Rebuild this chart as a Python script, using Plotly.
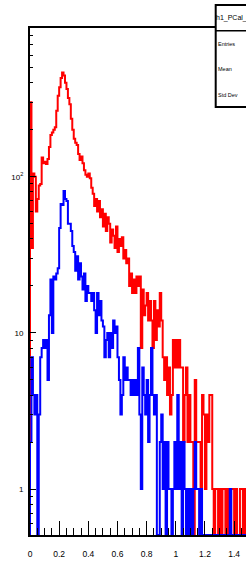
import plotly.graph_objects as go

# ---------------- data ----------------
bin_width = 0.01
red_counts = [
    300, 35, 105, 100, 60, 72, 88, 90, 133, 122,
    125, 121, 130, 155, 185, 192, 200, 208, 265, 330,
    375, 430, 465, 445, 400, 365, 320, 292, 235, 200,
    175, 165, 160, 140, 128, 135, 122, 110, 103, 100,
    105, 98, 85, 78, 65, 72, 60, 70, 55, 62,
    48, 58, 45, 55, 50, 38, 46, 42, 35, 48,
    33, 40, 36, 41, 30, 34, 28, 30, 20, 24,
    18, 22, 18, 23, 20, 23, 8, 19, 13, 15,
    18, 12, 16, 12, 8, 16, 9, 14, 11, 18,
    12, 7, 5, 7, 4, 6, 3, 4, 9, 6,
    9, 6, 9, 6, 6, 2, 4, 6, 2, 4,
    2, 2, 0, 5, 2, 2, 2, 1, 4, 3,
    1, 3, 2, 4, 4, 1, 0, 1, 1, 0,
    1, 0, 1, 1, 0, 1, 0, 0, 1, 1,
    0, 1, 0, 0, 1, 1, 0, 1, 0, 0,
]
blue_counts = [
    2, 7, 4, 3, 4, 0, 3, 7, 8, 9,
    8, 9, 5, 13, 22, 10, 23, 22, 24, 26,
    47, 67, 66, 81, 72, 70, 50, 50, 45, 36,
    33, 25, 31, 22, 28, 23, 19, 24, 16, 20,
    18, 18, 16, 18, 14, 10, 18, 13, 16, 12,
    11, 7, 9, 10, 7, 10, 8, 12, 10, 11,
    7, 5, 3, 4, 7, 5, 6, 5, 5, 4,
    5, 4, 5, 4, 8, 3, 1, 6, 4, 3,
    5, 2, 4, 8, 4, 3, 4, 0, 0, 2,
    3, 1, 2, 0, 2, 1, 1, 0, 1, 2,
    1, 4, 1, 2, 0, 2, 1, 0, 1, 0,
    1, 0, 1, 2, 1, 1, 0, 1, 0, 0,
    0, 0, 0, 0, 0, 0, 0, 0, 0, 0,
    0, 0, 0, 0, 0, 0, 0, 1, 0, 0,
    0, 0, 0, 0, 0, 0, 0, 0, 0, 0,
]
x_tick_vals = [0, 0.2, 0.4, 0.6, 0.8, 1.0, 1.2, 1.4]
x_tick_text = ["0", "0.2", "0.4", "0.6", "0.8", "1", "1.2", "1.4"]
y_tick_vals = [1, 10, 100]
y_tick_text = ["1", "10", "10<sup>2</sup>"]
stats_title = "h1_PCal_sampling"
stats_labels = ["Entries", "Mean", "Std Dev"]

# ---------------- layout constants ----------------
W, H = 246, 561
ML, MR, MT, MB = 30, 0, 28, 26
Y_LOG_MIN, Y_LOG_MAX = -0.294, 2.953
X_MAX = (W - ML) / 145.8
YMIN = 10 ** Y_LOG_MIN


def step_xy(counts):
    edges = [i * bin_width for i in range(len(counts) + 1)]
    ys = [c if c > 0 else YMIN for c in counts]
    x = [edges[0]] + edges
    y = [YMIN] + ys + [ys[-1]]
    return x, y


fig = go.Figure()
for counts, color in ((red_counts, "#ff0000"), (blue_counts, "#0000ff")):
    xs, ys = step_xy(counts)
    fig.add_trace(go.Scatter(x=xs, y=ys, mode="lines", line_shape="hv",
                             line=dict(color=color, width=2), hoverinfo="skip",
                             showlegend=False))

font = dict(family="Liberation Sans, Arial, sans-serif", color="black")

fig.update_layout(
    width=W, height=H,
    margin=dict(l=ML, r=MR, t=MT, b=MB, pad=0),
    paper_bgcolor="white", plot_bgcolor="white",
    font=dict(size=8, **font),
    showlegend=False,
    xaxis=dict(range=[0, X_MAX], tickmode="array", tickvals=x_tick_vals,
               ticktext=x_tick_text, ticks="inside", ticklen=14, tickwidth=1,
               tickcolor="black", showline=True, linewidth=2, linecolor="black",
               mirror=True, showgrid=False, zeroline=False,
               tickfont=dict(size=8.5, **font), ticklabelstandoff=10,
               minor=dict(dtick=0.05, tick0=0, ticks="inside", ticklen=7,
                          tickwidth=1, tickcolor="black", showgrid=False)),
    yaxis=dict(type="log", range=[Y_LOG_MIN, Y_LOG_MAX], tickmode="array",
               tickvals=y_tick_vals, ticktext=y_tick_text, ticks="inside",
               ticklen=6, tickwidth=1, tickcolor="black", showline=True,
               linewidth=2, linecolor="black", mirror=False, showgrid=False,
               zeroline=False, tickfont=dict(size=8, **font),
               ticklabelstandoff=3,
               minor=dict(tickmode="array",
                          tickvals=[0.6, 0.7, 0.8, 0.9] + [k for k in range(2, 10)]
                          + [10 * k for k in range(2, 10)] + [100 * k for k in range(2, 10)],
                          ticks="inside", ticklen=3, tickwidth=1, tickcolor="black",
                          showgrid=False)),
)

# stats box (paper coords derived from pixel geometry)
pw, ph = W - ML - MR, H - MT - MB


def px2x(px):
    return (px - ML) / pw


def py2y(py):
    return (H - MB - py) / ph


fig.add_shape(type="rect", xref="paper", yref="paper", x0=px2x(215.7), x1=1.3,
              y0=py2y(107), y1=py2y(5), line=dict(color="black", width=2),
              fillcolor="white", layer="above")
fig.add_shape(type="line", xref="paper", yref="paper", x0=px2x(215.7), x1=1.3,
              y0=py2y(30.7), y1=py2y(30.7), line=dict(color="black", width=1.5),
              layer="above")
fig.add_annotation(xref="paper", yref="paper", x=px2x(214.5), y=py2y(18),
                   text=stats_title, showarrow=False, xanchor="left",
                   yanchor="middle", font=dict(size=7, **font), borderpad=0)
for label, py in zip(stats_labels, (44, 69, 95)):
    fig.add_annotation(xref="paper", yref="paper", x=px2x(216.5), y=py2y(py),
                       text=label, showarrow=False, xanchor="left",
                       yanchor="middle", font=dict(size=5.5, **font), borderpad=0)

fig.write_html("out.html", config={"displayModeBar": False},
               post_script="document.body.style.margin='0';"
                           "document.body.style.overflow='hidden';")
